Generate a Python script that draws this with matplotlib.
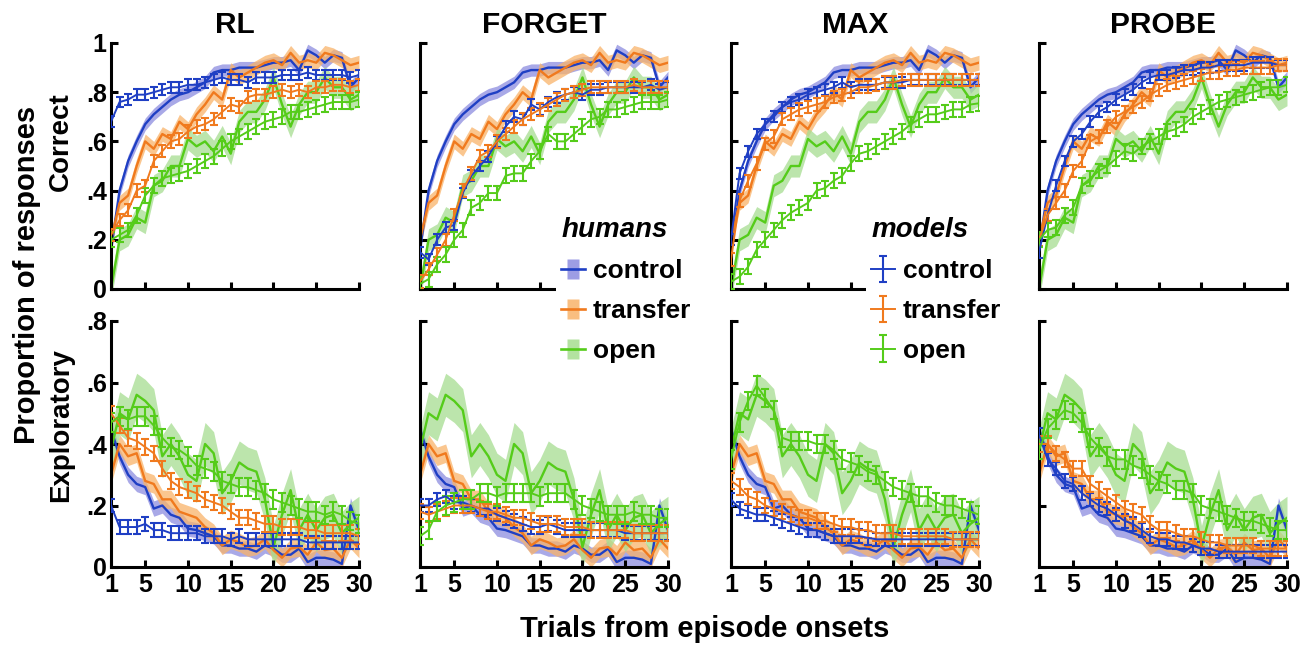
import matplotlib
matplotlib.use("Agg")
import matplotlib.pyplot as plt
from matplotlib.lines import Line2D
import numpy as np

plt.rcParams['font.family'] = ['Liberation Sans', 'DejaVu Sans']
plt.rcParams['font.weight'] = 'bold'

# ---------------- data ----------------
trials = list(range(1, 31))
panel_titles = ["RL", "FORGET", "MAX", "PROBE"]
row_labels = ["Correct", "Exploratory"]
conditions = ["control", "transfer", "open"]
xtick_values = [1, 5, 10, 15, 20, 25, 30]
correct_ticks = [0, 0.2, 0.4, 0.6, 0.8, 1.0]
correct_ticklabels = ["0", ".2", ".4", ".6", ".8", "1"]
explore_ticks = [0, 0.2, 0.4, 0.6, 0.8]
explore_ticklabels = ["0", ".2", ".4", ".6", ".8"]

# humans (same in every panel)
human_correct_control = [0.16, 0.40, 0.52, 0.60, 0.67, 0.71, 0.74, 0.77, 0.79, 0.80,
                         0.82, 0.84, 0.88, 0.89, 0.89, 0.90, 0.90, 0.90, 0.91, 0.92,
                         0.92, 0.93, 0.89, 0.97, 0.95, 0.92, 0.95, 0.94, 0.82, 0.86]
human_correct_transfer = [0.20, 0.35, 0.38, 0.50, 0.60, 0.57, 0.63, 0.61, 0.68, 0.65,
                          0.71, 0.75, 0.80, 0.77, 0.89, 0.86, 0.88, 0.90, 0.92, 0.93,
                          0.91, 0.96, 0.92, 0.93, 0.92, 0.96, 0.95, 0.93, 0.91, 0.92]
human_correct_open = [0.00, 0.20, 0.22, 0.29, 0.27, 0.42, 0.44, 0.50, 0.50, 0.61,
                      0.58, 0.60, 0.56, 0.62, 0.55, 0.68, 0.72, 0.72, 0.77, 0.86,
                      0.75, 0.66, 0.75, 0.80, 0.80, 0.86, 0.82, 0.82, 0.77, 0.79]
human_explore_control = [0.45, 0.36, 0.30, 0.27, 0.26, 0.19, 0.20, 0.17, 0.16, 0.125,
                         0.12, 0.11, 0.10, 0.07, 0.07, 0.06, 0.06, 0.05, 0.07, 0.06,
                         0.04, 0.04, 0.06, 0.016, 0.03, 0.03, 0.024, 0.01, 0.20, 0.12]
human_explore_transfer = [0.30, 0.40, 0.36, 0.37, 0.28, 0.27, 0.22, 0.22, 0.18, 0.17,
                          0.16, 0.13, 0.11, 0.07, 0.09, 0.08, 0.065, 0.07, 0.09, 0.055,
                          0.03, 0.06, 0.065, 0.04, 0.08, 0.055, 0.06, 0.03, 0.09, 0.06]
human_explore_open = [0.38, 0.50, 0.48, 0.56, 0.54, 0.51, 0.36, 0.40, 0.36, 0.30,
                      0.28, 0.40, 0.37, 0.24, 0.28, 0.34, 0.32, 0.31, 0.22, 0.065,
                      0.17, 0.25, 0.12, 0.17, 0.12, 0.16, 0.17, 0.11, 0.14, 0.16]
human_correct_sem = [0.025, 0.03, 0.045]
human_explore_sem = [0.025, 0.03, 0.07]

# models, per panel
rl_correct_control = [0.68, 0.76, 0.77, 0.79, 0.79, 0.80, 0.81, 0.82, 0.82, 0.83,
                      0.83, 0.84, 0.85, 0.86, 0.85, 0.85, 0.84, 0.86, 0.86, 0.86,
                      0.87, 0.87, 0.87, 0.88, 0.87, 0.87, 0.87, 0.87, 0.86, 0.87]
rl_correct_transfer = [0.22, 0.28, 0.32, 0.40, 0.42, 0.52, 0.56, 0.60, 0.61, 0.64,
                       0.66, 0.67, 0.69, 0.72, 0.75, 0.74, 0.78, 0.79, 0.79, 0.80,
                       0.81, 0.80, 0.81, 0.80, 0.82, 0.82, 0.83, 0.83, 0.82, 0.83]
rl_correct_open = [0.20, 0.22, 0.24, 0.30, 0.38, 0.42, 0.45, 0.46, 0.47, 0.48,
                   0.50, 0.52, 0.54, 0.57, 0.60, 0.62, 0.64, 0.66, 0.68, 0.69,
                   0.70, 0.72, 0.72, 0.73, 0.74, 0.75, 0.76, 0.76, 0.76, 0.77]
rl_explore_control = [0.20, 0.13, 0.13, 0.13, 0.14, 0.12, 0.12, 0.11, 0.11, 0.11,
                      0.11, 0.10, 0.10, 0.10, 0.09, 0.10, 0.09, 0.09, 0.09, 0.09,
                      0.09, 0.09, 0.09, 0.08, 0.08, 0.08, 0.08, 0.08, 0.08, 0.08]
rl_explore_transfer = [0.50, 0.46, 0.42, 0.41, 0.39, 0.37, 0.32, 0.28, 0.26, 0.25,
                       0.24, 0.22, 0.21, 0.20, 0.18, 0.16, 0.16, 0.15, 0.14, 0.14,
                       0.13, 0.13, 0.13, 0.12, 0.12, 0.11, 0.11, 0.11, 0.11, 0.10]
rl_explore_open = [0.47, 0.49, 0.48, 0.49, 0.49, 0.46, 0.42, 0.39, 0.38, 0.36,
                   0.33, 0.32, 0.31, 0.28, 0.27, 0.26, 0.26, 0.25, 0.24, 0.22,
                   0.21, 0.20, 0.19, 0.18, 0.18, 0.17, 0.18, 0.17, 0.15, 0.14]

forget_correct_control = [0.15, 0.12, 0.20, 0.25, 0.26, 0.39, 0.46, 0.50, 0.54, 0.60,
                          0.66, 0.70, 0.69, 0.75, 0.73, 0.76, 0.78, 0.79, 0.80, 0.79,
                          0.81, 0.81, 0.82, 0.82, 0.82, 0.82, 0.82, 0.83, 0.81, 0.82]
forget_correct_transfer = [0.03, 0.08, 0.14, 0.20, 0.30, 0.40, 0.47, 0.54, 0.56, 0.60,
                           0.63, 0.66, 0.69, 0.71, 0.73, 0.75, 0.77, 0.79, 0.80, 0.81,
                           0.82, 0.82, 0.82, 0.82, 0.82, 0.83, 0.82, 0.82, 0.82, 0.82]
forget_correct_open = [0.02, 0.04, 0.10, 0.14, 0.20, 0.24, 0.33, 0.35, 0.39, 0.39,
                       0.46, 0.47, 0.47, 0.52, 0.56, 0.63, 0.60, 0.60, 0.63, 0.66,
                       0.69, 0.70, 0.73, 0.73, 0.74, 0.75, 0.76, 0.76, 0.76, 0.77]
forget_explore_control = [0.20, 0.20, 0.22, 0.23, 0.21, 0.21, 0.20, 0.19, 0.19, 0.17,
                          0.16, 0.15, 0.14, 0.13, 0.13, 0.14, 0.13, 0.12, 0.12, 0.12,
                          0.12, 0.12, 0.12, 0.12, 0.11, 0.11, 0.11, 0.11, 0.11, 0.11]
forget_explore_transfer = [0.18, 0.17, 0.18, 0.19, 0.20, 0.20, 0.20, 0.19, 0.18, 0.18,
                           0.17, 0.16, 0.16, 0.15, 0.14, 0.14, 0.14, 0.13, 0.13, 0.13,
                           0.12, 0.12, 0.12, 0.12, 0.12, 0.11, 0.11, 0.11, 0.11, 0.11]
forget_explore_open = [0.10, 0.12, 0.18, 0.20, 0.21, 0.22, 0.22, 0.24, 0.24, 0.23,
                       0.24, 0.24, 0.24, 0.24, 0.23, 0.24, 0.24, 0.24, 0.22, 0.20,
                       0.19, 0.18, 0.17, 0.17, 0.17, 0.18, 0.17, 0.17, 0.16, 0.16]

max_correct_control = [0.20, 0.47, 0.56, 0.63, 0.67, 0.70, 0.74, 0.76, 0.77, 0.79,
                       0.80, 0.81, 0.82, 0.84, 0.82, 0.83, 0.83, 0.83, 0.84, 0.84,
                       0.84, 0.85, 0.85, 0.85, 0.85, 0.85, 0.85, 0.85, 0.85, 0.85]
max_correct_transfer = [0.12, 0.36, 0.44, 0.51, 0.59, 0.62, 0.69, 0.71, 0.73, 0.74,
                        0.75, 0.76, 0.78, 0.79, 0.80, 0.82, 0.82, 0.83, 0.84, 0.84,
                        0.85, 0.85, 0.85, 0.85, 0.85, 0.85, 0.85, 0.85, 0.85, 0.85]
max_correct_open = [0.03, 0.05, 0.09, 0.16, 0.20, 0.24, 0.28, 0.31, 0.33, 0.35,
                    0.40, 0.41, 0.44, 0.46, 0.51, 0.55, 0.56, 0.58, 0.60, 0.62,
                    0.64, 0.67, 0.69, 0.71, 0.71, 0.72, 0.73, 0.73, 0.75, 0.755]
max_explore_control = [0.22, 0.19, 0.18, 0.17, 0.17, 0.16, 0.15, 0.14, 0.13, 0.12,
                       0.12, 0.11, 0.10, 0.10, 0.10, 0.10, 0.095, 0.09, 0.09, 0.09,
                       0.09, 0.09, 0.09, 0.09, 0.09, 0.09, 0.09, 0.09, 0.09, 0.09]
max_explore_transfer = [0.28, 0.26, 0.23, 0.22, 0.20, 0.19, 0.18, 0.17, 0.16, 0.16,
                        0.15, 0.15, 0.14, 0.13, 0.13, 0.12, 0.12, 0.11, 0.11, 0.11,
                        0.10, 0.10, 0.10, 0.10, 0.10, 0.10, 0.09, 0.09, 0.09, 0.09]
max_explore_open = [0.35, 0.47, 0.54, 0.59, 0.55, 0.51, 0.42, 0.41, 0.41, 0.41,
                    0.40, 0.40, 0.38, 0.35, 0.34, 0.33, 0.31, 0.30, 0.28, 0.26,
                    0.25, 0.24, 0.23, 0.23, 0.21, 0.20, 0.20, 0.19, 0.18, 0.17]

probe_correct_control = [0.15, 0.30, 0.42, 0.52, 0.60, 0.63, 0.68, 0.72, 0.74, 0.77,
                         0.79, 0.81, 0.84, 0.86, 0.87, 0.87, 0.88, 0.89, 0.89, 0.90,
                         0.90, 0.91, 0.91, 0.91, 0.91, 0.92, 0.92, 0.92, 0.91, 0.91]
probe_correct_transfer = [0.20, 0.30, 0.35, 0.40, 0.48, 0.52, 0.60, 0.62, 0.66, 0.70,
                          0.72, 0.74, 0.76, 0.79, 0.81, 0.83, 0.84, 0.85, 0.86, 0.87,
                          0.88, 0.88, 0.89, 0.89, 0.90, 0.90, 0.90, 0.90, 0.91, 0.91]
probe_correct_open = [0.20, 0.24, 0.25, 0.30, 0.33, 0.42, 0.45, 0.48, 0.50, 0.53,
                      0.56, 0.55, 0.58, 0.60, 0.62, 0.64, 0.65, 0.67, 0.70, 0.72,
                      0.74, 0.76, 0.77, 0.78, 0.79, 0.80, 0.81, 0.82, 0.82, 0.83]
probe_explore_control = [0.43, 0.35, 0.32, 0.28, 0.27, 0.24, 0.22, 0.20, 0.19, 0.17,
                         0.15, 0.14, 0.12, 0.10, 0.09, 0.09, 0.08, 0.08, 0.07, 0.06,
                         0.06, 0.05, 0.05, 0.05, 0.05, 0.05, 0.05, 0.05, 0.05, 0.05]
probe_explore_transfer = [0.40, 0.40, 0.37, 0.35, 0.32, 0.32, 0.27, 0.25, 0.23, 0.21,
                          0.19, 0.18, 0.17, 0.14, 0.12, 0.12, 0.11, 0.10, 0.10, 0.09,
                          0.08, 0.08, 0.07, 0.07, 0.07, 0.07, 0.06, 0.06, 0.06, 0.06]
probe_explore_open = [0.38, 0.45, 0.48, 0.51, 0.50, 0.47, 0.42, 0.39, 0.36, 0.35,
                      0.35, 0.33, 0.32, 0.30, 0.28, 0.27, 0.25, 0.25, 0.24, 0.20,
                      0.19, 0.18, 0.17, 0.16, 0.15, 0.15, 0.14, 0.13, 0.12, 0.12]

model_err = [0.022, 0.025, 0.03]

# ---------------- assemble ----------------
human_rows = [
    [human_correct_control, human_correct_transfer, human_correct_open],
    [human_explore_control, human_explore_transfer, human_explore_open],
]
human_sems = [human_correct_sem, human_explore_sem]
model_table = {
    "RL": [[rl_correct_control, rl_correct_transfer, rl_correct_open],
           [rl_explore_control, rl_explore_transfer, rl_explore_open]],
    "FORGET": [[forget_correct_control, forget_correct_transfer, forget_correct_open],
               [forget_explore_control, forget_explore_transfer, forget_explore_open]],
    "MAX": [[max_correct_control, max_correct_transfer, max_correct_open],
            [max_explore_control, max_explore_transfer, max_explore_open]],
    "PROBE": [[probe_correct_control, probe_correct_transfer, probe_correct_open],
              [probe_explore_control, probe_explore_transfer, probe_explore_open]],
}

line_colors = ["#1f3fc4", "#f07a1e", "#55cc1a"]
shade_colors = ["#8c8ce0", "#f9b36a", "#a6dd90"]

W, H = 1313, 648
fig = plt.figure(figsize=(W / 100, H / 100), dpi=100)

col_left = [111, 420, 731, 1039]
ax_w = 248
row_top = [43, 321]
ax_h = 246

def to_fig(x0, ytop, w, h):
    return [x0 / W, 1 - (ytop + h) / H, w / W, h / H]

err_handles = None
for c, title in enumerate(panel_titles):
    for r in range(2):
        ax = fig.add_axes(to_fig(col_left[c], row_top[r], ax_w, ax_h))
        x = np.array(trials)
        for k in range(3):
            hy = np.array(human_rows[r][k])
            s = human_sems[r][k]
            ax.fill_between(x, hy - s, hy + s, color=shade_colors[k], alpha=0.75,
                            linewidth=0, zorder=1)
        conts = []
        for k in range(3):
            my = model_table[title][r][k]
            cont = ax.errorbar(x, my, yerr=model_err[k], color=line_colors[k],
                               lw=1.4, elinewidth=1.5, capsize=3.2, capthick=1.5,
                               zorder=3)
            conts.append(cont)
        for k in range(3):
            ax.plot(x, human_rows[r][k], color=line_colors[k], lw=1.7, zorder=2)
        if err_handles is None:
            err_handles = conts

        ax.set_xlim(1, 30)
        if r == 0:
            ax.set_ylim(0, 1)
            ax.set_yticks(correct_ticks)
            ax.set_yticklabels(correct_ticklabels if c == 0 else [])
        else:
            ax.set_ylim(0, 0.8)
            ax.set_yticks(explore_ticks)
            ax.set_yticklabels(explore_ticklabels if c == 0 else [])
        ax.set_xticks(xtick_values)
        if r == 1:
            ax.set_xticklabels([str(v) for v in xtick_values])
        else:
            ax.set_xticklabels([])
        for sp in ["top", "right"]:
            ax.spines[sp].set_visible(False)
        for sp in ["left", "bottom"]:
            ax.spines[sp].set_linewidth(2.2)
        ax.tick_params(direction="in", length=5, width=2.2, labelsize=18, pad=4)
        ax.tick_params(axis="y", pad=3)
        for lab in ax.get_xticklabels() + ax.get_yticklabels():
            lab.set_fontweight("bold")
        if r == 0:
            ax.set_title(title, fontsize=21.5, fontweight="bold", pad=7)

# axis labels
fig.text(27 / W, 1 - 275 / H, "Proportion of responses", rotation=90, fontsize=21,
         fontweight="bold", ha="center", va="center")
fig.text(61 / W, 1 - 142 / H, row_labels[0], rotation=90, fontsize=20,
         fontweight="bold", ha="center", va="center")
fig.text(61 / W, 1 - 425 / H, row_labels[1], rotation=90, fontsize=20,
         fontweight="bold", ha="center", va="center")
fig.text(705 / W, 1 - 629 / H, "Trials from episode onsets", fontsize=21,
         fontweight="bold", ha="center", va="center")

# legends
rect = [(-0.55, -1), (0.55, -1), (0.55, 1), (-0.55, 1), (-0.55, -1)]
human_handles = []
for k in range(3):
    patch = Line2D([], [], marker=rect, markersize=15, markerfacecolor=shade_colors[k],
                   markeredgecolor="none", linestyle="none", alpha=0.85)
    ln = Line2D([], [], color=line_colors[k], lw=1.9)
    human_handles.append((patch, ln))

leg_kw = dict(loc="upper left", frameon=True, facecolor="white", edgecolor="none",
              framealpha=1, prop={"size": 19, "weight": "bold"},
              title_fontproperties={"size": 20, "weight": "bold", "style": "italic"},
              alignment="left", handlelength=0.9, handletextpad=0.3,
              labelspacing=0.6, borderpad=0.2, borderaxespad=0)
leg1 = fig.legend(human_handles, conditions, title="humans",
                  bbox_to_anchor=(556 / W, 1 - 212 / H), **leg_kw)
leg2 = fig.legend(err_handles, conditions, title="models",
                  bbox_to_anchor=(866 / W, 1 - 212 / H), **leg_kw)

fig.savefig("out.png", dpi=100)
